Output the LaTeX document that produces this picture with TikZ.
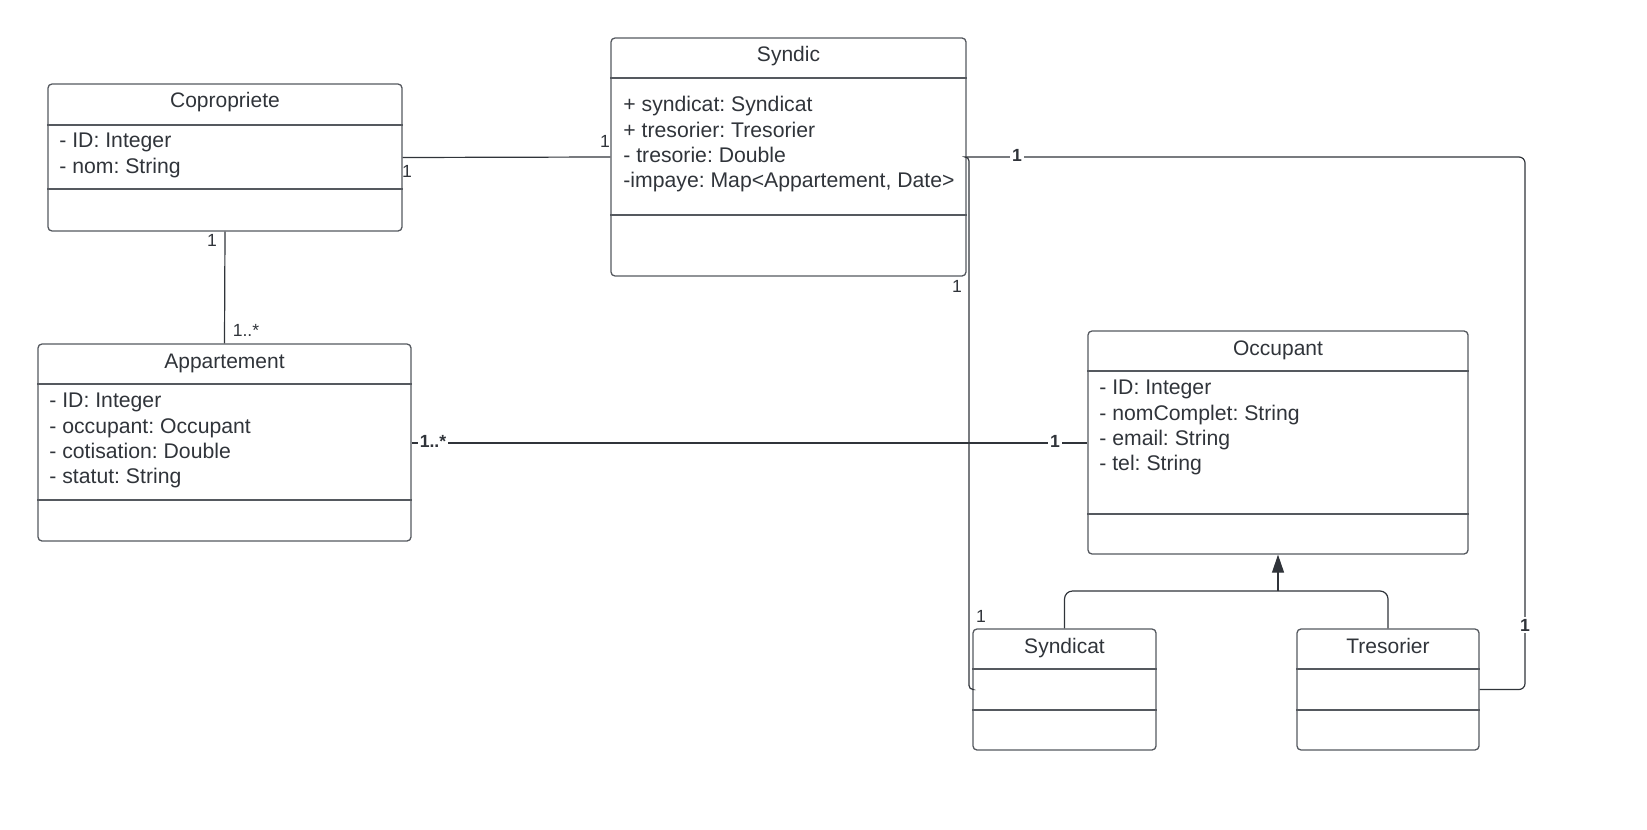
\documentclass[tikz,border=0pt]{standalone}
\usepackage{fontspec}
\setmainfont{Liberation Sans}
\usetikzlibrary{arrows.meta,calc}

\definecolor{ink}{HTML}{30343A}
\definecolor{edge}{HTML}{55595F}
\frenchspacing

\begin{document}
\begin{tikzpicture}[x=0.5pt,y=-0.5pt,
    classbox/.style={draw=edge, line width=0.65pt, rounded corners=2pt, inner sep=0pt},
    classname/.style={text=ink, font=\fontsize{10.5}{12}\selectfont, text height=0.75em, text depth=0.25em},
    attrs/.style={text=ink, font=\fontsize{10.6}{12.65}\selectfont, align=left, anchor=north west, inner sep=0pt},
    sepline/.style={draw=edge, line width=0.6pt},
    mult/.style={text=ink, font=\fontsize{8.8}{9}\selectfont, inner sep=1pt},
    onmult/.style={mult, fill=white, font=\fontsize{8.8}{9}\selectfont\bfseries},
    assoc/.style={draw=ink, line width=0.6pt}]
    \useasboundingbox (0,0) rectangle (1647,829);

    % class boxes
    \node [classbox, minimum width=177pt, minimum height=73.5pt] (copro) at (225,157.5) {};
    \node [classbox, minimum width=177.5pt, minimum height=119pt] (syndic) at (788.5,157) {};
    \node [classbox, minimum width=186.5pt, minimum height=98.5pt] (appart) at (224.5,442.5) {};
    \node [classbox, minimum width=190pt, minimum height=111.5pt] (occup) at (1278,442.5) {};
    \node [classbox, minimum width=91.5pt, minimum height=60.5pt] (syndicat) at (1064.5,689.5) {};
    \node [classbox, minimum width=91pt, minimum height=60.5pt] (tres) at (1388,689.5) {};

    % compartments
    \draw [sepline] (copro.west |- 0,125) -- (copro.east |- 0,125);
    \draw [sepline] (copro.west |- 0,189) -- (copro.east |- 0,189);
    \draw [sepline] (syndic.west |- 0,78) -- (syndic.east |- 0,78);
    \draw [sepline] (syndic.west |- 0,215) -- (syndic.east |- 0,215);
    \draw [sepline] (appart.west |- 0,384) -- (appart.east |- 0,384);
    \draw [sepline] (appart.west |- 0,500) -- (appart.east |- 0,500);
    \draw [sepline] (occup.west |- 0,371) -- (occup.east |- 0,371);
    \draw [sepline] (occup.west |- 0,514) -- (occup.east |- 0,514);
    \draw [sepline] (syndicat.west |- 0,669) -- (syndicat.east |- 0,669);
    \draw [sepline] (syndicat.west |- 0,710) -- (syndicat.east |- 0,710);
    \draw [sepline] (tres.west |- 0,669) -- (tres.east |- 0,669);
    \draw [sepline] (tres.west |- 0,710) -- (tres.east |- 0,710);

    % names and attributes
    \node [classname] (coprot) at (225,103) {Copropriete};
    \node [attrs] (coproa) at (59,133) {- ID: Integer\\- nom: String};
    \node [classname] (syndict) at (788.5,57) {Syndic};
    \node [attrs] (syndica) at (623,96) {+ syndicat: Syndicat\\+ tresorier: Tresorier\\- tresorie: Double\\-impaye: Map<Appartement, Date>};
    \node [classname] (appartt) at (224.5,363) {Appartement};
    \node [attrs] (apparta) at (49,393) {- ID: Integer\\- occupant: Occupant\\- cotisation: Double\\- statut: String};
    \node [classname] (occupt) at (1278,350) {Occupant};
    \node [attrs] (occupa) at (1099,380) {- ID: Integer\\- nomComplet: String\\- email: String\\- tel: String};
    \node [classname] (syndicatt) at (1064.5,648) {Syndicat};
    \node [classname] (trest) at (1388,648) {Tresorier};

    % associations
    \draw [assoc] (copro.east) -- (syndic.west);
    \node [mult] (m1) at (407,171) {1};
    \node [mult] (m2) at (605,141) {1};
    \draw [assoc] (copro.south) -- (appart.north);
    \node [mult] (m3) at (212,240) {1};
    \node [mult] (m4) at (246,330) {1..*};
    \draw [assoc, line width=1pt] (appart.east) -- (occup.west);
    \node [onmult] (m5) at (433,441) {1..*};
    \node [onmult] (m6) at (1055,441) {1};

    \coordinate (rail) at (1525,157);
    \draw [assoc, rounded corners=3pt] (syndic.east) -- (rail) |- (tres.east);
    \node [onmult] (m7) at (1017,155) {1};
    \node [onmult] (m8) at (1525,625) {1};

    \coordinate (drop) at (969,157);
    \draw [assoc, rounded corners=2pt] (syndic.east) -- (drop) |- (syndicat.west);
    \node [mult] (m9) at (957,286) {1};
    \node [mult] (m10) at (981,616) {1};

    % inheritance
    \coordinate (fork) at (1278,591);
    \draw [assoc, rounded corners=4pt] (syndicat.north) |- (fork);
    \draw [assoc, rounded corners=4pt] (tres.north) |- (fork);
    \draw [assoc, -{Triangle[width=6pt,length=9pt]}] (fork) -- (occup.south);
\end{tikzpicture}
\end{document}
